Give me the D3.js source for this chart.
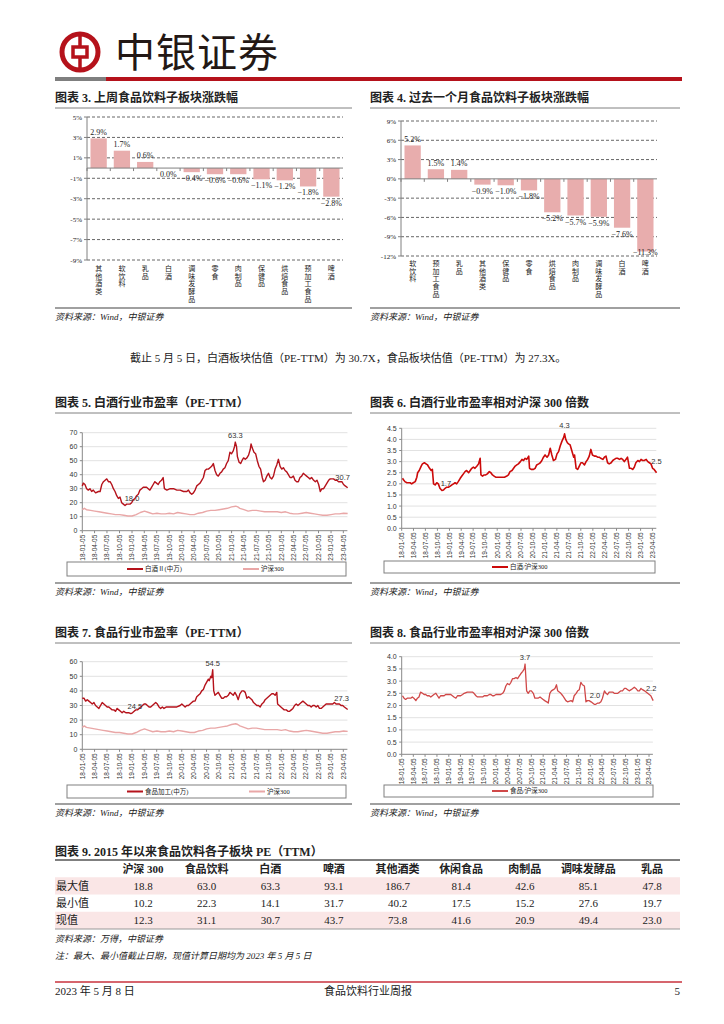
<!DOCTYPE html>
<html><head><meta charset="utf-8">
<script src="https://cdn.jsdelivr.net/npm/d3@7/dist/d3.min.js"></script>
<style>
body{margin:0;background:#fff}
svg{display:block}
text{font-family:"Liberation Serif","Noto Sans CJK SC",serif;fill:#222}
</style></head><body>
<svg id="page" width="724" height="1024"></svg>
<script>
// ---- data ----
var wkCats = ['其他酒类','软饮料','乳品','白酒','调味发酵品','零食','肉制品','保健品','烘焙食品','预加工食品','啤酒'];
var wkVals = [2.9,1.7,0.6,0.0,-0.4,-0.6,-0.6,-1.1,-1.2,-1.8,-2.8];
var wkTicks = [5,3,1,-1,-3,-5,-7,-9];
var moCats = ['软饮料','预加工食品','乳品','其他酒类','保健品','零食','烘焙食品','肉制品','调味发酵品','白酒','啤酒'];
var moVals = [5.2,1.5,1.4,-0.9,-1.0,-1.8,-5.2,-5.7,-5.9,-7.6,-11.3];
var moTicks = [9,6,3,0,-3,-6,-9,-12];

var dateTicks = ['18-01-05','18-04-05','18-07-05','18-10-05','19-01-05','19-04-05','19-07-05','19-10-05',
  '20-01-05','20-04-05','20-07-05','20-10-05','21-01-05','21-04-05','21-07-05','21-10-05',
  '22-01-05','22-04-05','22-07-05','22-10-05','23-01-05','23-04-05'];

// [months since 18-01-05, value]
var baijiuPE = [[0,32],[0.24,34],[0.64,33],[1.05,30],[1.45,29],[1.85,30],[2.25,28],[2.65,29],[3.2,27],[3.9,28],[4.3,28],
 [4.7,33],[5.1,35],[5.5,36],[5.9,37],[6.3,35],[6.7,35],[7.1,33],[7.5,30],[7.9,28],[8.3,25],[8.7,23],[9.1,24],[9.5,20],
 [9.9,19],[10.3,18],[10.7,19],[11.5,19],[11.9,20],[12.3,22],[12.7,23],[13.1,25],[13.5,26],[13.9,29],[14.3,30],[14.7,31],
 [15.5,31],[15.9,30],[16.3,29],[16.7,31],[17.1,33],[17.5,35],[17.9,34],[18.3,33],[18.7,35],[19.1,36],[19.5,38],[19.8,30],
 [20.4,29],[21.2,30],[22.0,30],[22.8,29],[23.6,29],[24.4,28],[25.2,28],[25.6,29],[26.0,27],[26.4,26],[26.8,27],[27.2,29],
 [27.6,32],[28.0,33],[28.4,34],[28.8,36],[29.2,38],[29.6,43],[30.0,44],[30.4,44],[30.8,45],[31.2,46],[31.6,48],[32.0,43],
 [32.4,40],[32.8,39],[33.2,41],[33.6,42],[34.0,44],[34.4,45],[34.8,48],[35.2,50],[35.6,56],[36.0,55],[36.4,57],[36.7,60],
 [36.9,63.3],[37.2,60],[37.4,53],[37.8,49],[38.2,48],[38.5,50],[38.9,52],[39.3,51],[39.7,52],[40.1,54],[40.5,58],[40.7,62],
 [41.0,59],[41.4,56],[41.8,55],[42.2,50],[42.6,46],[43.0,44],[43.4,38],[43.7,35],[44.1,36],[44.5,39],[44.9,41],[45.3,38],
 [45.7,37],[46.1,39],[46.5,44],[46.9,47],[47.3,51],[47.7,46],[48.1,44],[48.5,45],[48.9,43],[49.3,42],[49.7,40],[50.1,38],
 [50.5,38],[50.9,39],[51.3,36],[51.7,35],[52.1,35],[52.5,38],[52.9,39],[53.3,41],[53.7,40],[54.1,39],[54.5,38],[54.9,37],
 [55.3,38],[55.8,36],[56.2,35],[56.6,36],[57.0,33],[57.4,28],[57.8,30],[58.2,30],[58.6,32],[59.0,34],[59.4,36],[59.8,37],
 [60.6,37],[61.0,36],[61.4,36],[61.8,35],[62.6,35],[63.0,33],[63.4,32],[64.0,30.7]];

var hs300PE = [[0,15],[0.5,16],[1,15],[2,14.5],[3,14],[4,13.5],[5,13],[6,12.5],[7,12],[8,11.5],[9,11.5],[10,11],[11,10.5],
 [12,10.5],[13,11.5],[14,13],[15,14],[16,13],[17,12],[18,12.5],[19,12],[20,12],[21,12.5],[22,12],[23,13],[24,12.5],[25,12],
 [26,11.5],[27,11.5],[28,12.5],[29,13],[30,14],[31,14.5],[32,14.5],[33,15],[34,15.5],[35,16],[36,17],[37,17.5],[37.5,17],
 [38,16],[39,15],[40,14],[41,14.5],[42,14.5],[43,14],[44,13.5],[45,13.5],[46,13.5],[47,13.5],[48,13],[49,13.5],[50,12.5],
 [51,12],[52,12],[53,12.5],[54,13],[55,12.5],[56,12],[57,11.5],[58,11],[59,11],[60,11.5],[61,12],[62,12],[63,12.5],[64,12.3]];

var baijiuRel = [[0.2,2.25],[0.4,2.2],[0.8,2.1],[1.3,2.05],[2.1,2.05],[2.5,2.0],[2.9,2.05],[3.4,2.1],[3.8,2.3],[4.0,2.5],
 [4.4,2.6],[4.9,2.8],[5.2,2.9],[5.7,2.95],[6.1,2.9],[6.5,2.85],[7.0,2.7],[7.4,2.6],[7.7,2.65],[8.0,2.0],[8.4,1.95],[8.8,2.05],
 [9.2,2.0],[9.6,1.8],[10.1,1.7],[10.5,1.72],[10.9,1.8],[11.3,1.85],[11.7,1.85],[12.2,1.9],[12.6,1.95],[13.0,2.0],[13.4,2.05],
 [13.8,2.0],[14.2,2.1],[14.7,2.25],[15.1,2.35],[15.5,2.45],[15.9,2.55],[16.3,2.6],[16.8,2.5],[17.2,2.6],[17.6,2.7],[18.0,2.75],
 [18.4,2.7],[18.9,2.8],[19.3,2.9],[19.7,3.15],[19.9,2.4],[20.3,2.35],[20.7,2.4],[21.1,2.4],[21.5,2.45],[22.0,2.55],[22.4,2.5],
 [22.8,2.4],[23.2,2.35],[23.6,2.3],[24.5,2.3],[25.8,2.3],[26.4,2.35],[26.8,2.4],[27.2,2.55],[27.7,2.6],[28.1,2.7],[28.5,2.8],
 [28.9,2.85],[29.3,2.9],[29.8,3.0],[30.2,3.1],[30.6,3.05],[31.0,3.15],[31.4,3.1],[31.9,3.25],[32.1,2.7],[32.5,2.65],[33.1,2.65],
 [33.5,2.7],[33.9,2.85],[34.4,2.9],[34.8,2.95],[35.2,3.05],[35.6,3.2],[36.0,3.3],[36.5,3.2],[36.9,3.3],[37.3,3.6],[37.7,3.3],
 [38.1,3.05],[38.6,3.1],[39.0,3.35],[39.4,3.45],[39.8,3.7],[40.2,3.9],[40.7,4.1],[40.9,4.25],[41.2,4.0],[41.6,3.85],[41.9,3.8],
 [42.3,3.75],[42.7,3.5],[43.2,3.2],[43.4,3.3],[43.8,2.7],[44.2,2.65],[44.6,2.8],[45.0,2.95],[45.4,2.95],[45.9,2.85],[46.3,3.0],
 [46.7,3.1],[47.1,3.25],[47.5,3.55],[47.9,3.3],[48.4,3.25],[48.8,3.25],[49.2,3.2],[49.6,3.2],[50.0,3.15],[50.5,3.1],[50.9,3.2],
 [51.3,3.25],[51.7,2.95],[52.1,2.9],[52.6,2.95],[53.0,3.05],[53.4,3.1],[53.8,3.15],[54.2,3.15],[54.7,3.1],[55.1,3.15],[55.5,3.1],
 [55.9,3.0],[56.3,3.1],[56.7,3.2],[57.2,2.7],[57.6,2.7],[58.0,2.65],[58.4,2.75],[58.8,2.95],[59.3,3.05],[59.7,3.0],[60.1,3.1],
 [60.5,3.05],[60.9,3.05],[61.4,3.1],[61.8,3.0],[62.2,2.95],[62.6,2.9],[63.0,2.7],[63.4,2.65],[64.0,2.5]];

var foodPE = [[0,35],[0.4,35],[0.8,33],[1.2,34],[1.6,33],[2.0,32],[2.4,31],[2.8,32],[3.2,30],[3.6,29],[4.0,28],[4.4,30],
 [4.8,32],[5.2,31],[5.6,30],[6.0,29],[6.4,29],[6.8,28],[7.2,27],[7.6,27],[8.0,26],[8.4,28],[8.8,27],[9.2,26],[9.6,25],
 [10.0,26],[10.5,25],[10.9,25],[11.3,25],[11.7,24.5],[12.1,25],[12.5,26],[12.9,27],[13.3,27],[13.7,28],[14.1,29],[14.5,30],
 [14.9,31],[15.3,31],[15.7,30],[16.1,29],[16.5,29],[16.9,30],[17.3,31],[17.7,32],[18.1,31],[18.5,29],[18.9,28],[19.3,29],
 [19.7,28],[20.3,29],[21.2,29],[22.0,29],[22.8,29],[23.6,30],[24.0,31],[24.4,30],[24.8,29],[25.2,30],[25.6,30],[26.0,31],
 [26.4,32],[26.8,33],[27.2,33],[27.6,36],[28.0,37],[28.4,38],[28.8,40],[29.2,41],[29.6,44],[30.0,46],[30.4,48],[30.6,47],
 [31.0,50],[31.2,49],[31.45,54.5],[31.7,40],[32.0,37],[32.4,38],[32.8,39],[33.2,37],[33.6,35],[34.0,35],[34.4,36],[34.8,36],
 [35.2,37],[35.6,39],[36.0,38],[36.4,37],[36.8,39],[37.2,37],[37.6,34],[38.0,38],[38.5,40],[38.9,40],[39.3,39],[39.7,35],
 [40.1,36],[40.5,35],[40.9,34],[41.3,32],[41.7,31],[42.1,30],[42.5,30],[42.9,29],[43.3,31],[43.7,32],[44.1,34],[44.5,35],
 [44.9,36],[45.3,37],[45.7,38],[46.1,38],[46.5,37],[46.9,39],[47.1,31],[47.5,30],[47.9,29],[48.3,28],[48.7,27],[49.2,27],
 [49.6,26],[50.0,26],[50.4,27],[50.8,28],[51.2,30],[51.6,31],[52.0,30],[52.4,31],[52.8,32],[53.2,33],[53.6,32],[54.0,31],
 [54.4,30],[54.8,30],[55.2,29],[55.6,30],[56.0,30],[56.4,29],[56.8,30],[57.2,28],[57.6,28],[58.0,29],[58.4,30],[58.8,31],
 [59.2,31],[59.6,31],[60.0,31],[60.4,31],[60.8,32],[61.2,31],[61.6,31],[62.0,31],[62.4,30],[62.8,30],[63.2,29],[64.0,27.3]];

var foodRel = [[0.2,2.4],[0.6,2.3],[1.0,2.25],[1.4,2.3],[2.3,2.3],[2.7,2.35],[3.1,2.3],[3.6,2.2],[4.0,2.3],[4.4,2.35],
 [4.8,2.55],[5.3,2.5],[5.7,2.45],[6.1,2.45],[6.5,2.4],[7.0,2.4],[7.4,2.35],[7.8,2.4],[8.2,2.45],[8.7,2.5],[9.1,2.4],[9.5,2.3],
 [9.9,2.4],[10.8,2.4],[11.2,2.45],[12.5,2.45],[12.9,2.4],[13.3,2.35],[13.8,2.3],[14.2,2.4],[15.0,2.4],[15.5,2.45],[15.9,2.5],
 [16.7,2.55],[18.0,2.55],[18.4,2.5],[18.9,2.4],[19.3,2.35],[20.6,2.35],[21.0,2.4],[21.8,2.4],[22.3,2.45],[22.7,2.45],[23.1,2.4],
 [23.5,2.4],[24.0,2.45],[25.2,2.45],[25.7,2.5],[26.1,2.6],[26.5,2.8],[26.9,2.9],[27.4,2.85],[27.8,2.95],[28.2,3.1],[28.6,3.1],
 [29.1,3.15],[29.5,3.1],[29.9,3.2],[30.3,3.3],[30.8,3.4],[31.2,3.5],[31.4,3.7],[31.8,2.6],[32.2,2.5],[32.6,2.6],[33.0,2.6],
 [33.5,2.5],[33.9,2.3],[34.7,2.3],[35.2,2.35],[35.6,2.3],[36.0,2.25],[36.4,2.2],[36.9,2.15],[37.3,2.1],[37.7,2.5],[38.1,2.6],
 [38.6,2.65],[39.0,2.7],[39.4,2.85],[39.7,2.6],[40.1,2.55],[40.5,2.5],[41.0,2.4],[41.4,2.3],[41.8,2.2],[42.2,2.15],[43.1,2.2],
 [43.5,2.15],[43.9,2.4],[44.4,2.5],[44.8,2.6],[45.2,2.65],[45.6,2.95],[46.0,2.85],[46.5,2.8],[46.9,2.15],[47.3,2.2],[47.7,2.2],
 [48.2,2.15],[48.6,2.1],[49.0,2.05],[49.4,2.05],[49.9,2.1],[50.3,2.1],[50.7,2.15],[51.1,2.3],[51.6,2.6],[52.0,2.5],[52.4,2.45],
 [52.8,2.55],[53.7,2.55],[54.1,2.5],[55.0,2.5],[55.4,2.55],[55.8,2.6],[56.2,2.6],[56.7,2.7],[57.1,2.7],[57.5,2.65],[57.9,2.6],
 [58.4,2.65],[58.8,2.7],[59.2,2.75],[59.6,2.7],[60.1,2.6],[60.5,2.6],[60.9,2.7],[61.3,2.65],[61.8,2.6],[62.2,2.55],[62.6,2.5],
 [63.0,2.45],[63.4,2.4],[64.0,2.2]];

var tableHead = ['沪深 300','食品饮料','白酒','啤酒','其他酒类','休闲食品','肉制品','调味发酵品','乳品'];
var rowNames = ['最大值','最小值','现值'];
var peMax = [18.8,63.0,63.3,93.1,186.7,81.4,42.6,85.1,47.8];
var peMin = [10.2,22.3,14.1,31.7,40.2,17.5,15.2,27.6,19.7];
var peNow = [12.3,31.1,30.7,43.7,73.8,41.6,20.9,49.4,23.0];

// ---- page ----
var RED = '#B5121B';
var svg = d3.select('#page');
var sans = '"Liberation Sans","Noto Sans CJK SC",sans-serif';

// header
var hd = svg.append('g');
hd.append('circle').attr('cx',80).attr('cy',52).attr('r',18).attr('fill','none').attr('stroke',RED).attr('stroke-width',5);
hd.append('line').attr('x1',80).attr('x2',80).attr('y1',36).attr('y2',68).attr('stroke',RED).attr('stroke-width',3.5);
hd.append('rect').attr('x',73).attr('y',47).attr('width',14).attr('height',10).attr('fill','#fff').attr('stroke',RED).attr('stroke-width',3.5);
hd.append('text').attr('x',115).attr('y',67).attr('font-size',40).attr('letter-spacing',1)
  .style('font-family','"Noto Sans CJK SC"').style('fill','#231815').text('中银证券');
hd.append('rect').attr('x',55).attr('y',77).attr('width',51).attr('height',4).attr('fill','#7f7f7f');
hd.append('rect').attr('x',106).attr('y',77).attr('width',576).attr('height',4).attr('fill',RED);

function title(x,y,w,t){
  svg.append('text').attr('x',x).attr('y',y).attr('font-size',12).attr('font-weight','bold').text(t);
  svg.append('line').attr('x1',x).attr('x2',x+w).attr('y1',y+6).attr('y2',y+6).attr('stroke','#808080').attr('stroke-width',1);
}
function source(x,y,w,t){
  svg.append('line').attr('x1',x).attr('x2',x+w).attr('y1',y).attr('y2',y).attr('stroke','#808080').attr('stroke-width',1.5);
  svg.append('text').attr('x',x).attr('y',y+12).attr('font-size',9).attr('font-style','italic').text(t);
}

function barChart(o){
  var g = svg.append('g');
  var x = d3.scaleBand().domain(o.cats).range([o.x0,o.x1]).paddingInner(0.3).paddingOuter(0.15);
  var y = d3.scaleLinear().domain(o.domain).range([o.yBot,o.yTop]);
  o.ticks.forEach(function(t){
    if(t!==0) g.append('line').attr('x1',o.x0).attr('x2',o.x1).attr('y1',y(t)).attr('y2',y(t))
      .attr('stroke','#404040').attr('stroke-width',0.8).attr('stroke-dasharray','3,2');
    g.append('line').attr('x1',o.x0-3).attr('x2',o.x0).attr('y1',y(t)).attr('y2',y(t)).attr('stroke','#808080');
    g.append('text').attr('x',o.x0-5).attr('y',y(t)+2.5).attr('text-anchor','end').attr('font-size',7).text(t+'%');
  });
  g.append('line').attr('x1',o.x0).attr('x2',o.x0).attr('y1',o.yTop).attr('y2',o.yBot).attr('stroke','#808080');
  g.selectAll('rect.b').data(o.vals).enter().append('rect')
    .attr('x',function(d,i){return x(o.cats[i]);}).attr('width',x.bandwidth())
    .attr('y',function(d){return y(Math.max(0,d));}).attr('height',function(d){return Math.abs(y(d)-y(0));})
    .attr('fill','#E8ADAD');
  g.append('line').attr('x1',o.x0).attr('x2',o.x1).attr('y1',y(0)).attr('y2',y(0)).attr('stroke','#808080');
  o.cats.forEach(function(c,i){
    var cx = x(c)+x.bandwidth()/2;
    g.append('line').attr('x1',x(c)-x.step()*0.15).attr('x2',x(c)-x.step()*0.15).attr('y1',y(0)).attr('y2',y(0)+3).attr('stroke','#808080');
    var v = o.vals[i];
    var ly = v>0 ? y(v)-3.5 : Math.min(y(v)+9, o.yBot-1.5);
    g.append('text').attr('x',cx).attr('y',ly).attr('text-anchor','middle').attr('font-size',8)
      .text(d3.format('.1f')(v)+'%');
    // vertical category name, one text element
    g.append('text').attr('x',cx).attr('y',o.catY).attr('font-size',7)
      .style('font-family','"Noto Sans CJK SC"').style('writing-mode','vertical-rl')
      .style('letter-spacing','0.6px').text(c);
  });
}

var t0 = new Date(2018,0,5), tEnd = new Date(2023,4,5);
var parseT = d3.timeParse('%y-%m-%d');
function mDate(m){ return new Date(t0.getTime()+m*30.4375*864e5); }

function lineChart(o){
  var g = svg.append('g');
  var x = d3.scaleTime().domain([t0,tEnd]).range([o.x0,o.xEnd]);
  var y = d3.scaleLinear().domain(o.yDomain).range([o.yBot,o.yTop]);
  o.yTicks.forEach(function(t){
    if(t!==o.yDomain[0]) g.append('line').attr('x1',o.x0).attr('x2',o.xEnd).attr('y1',y(t)).attr('y2',y(t))
      .attr('stroke','#d9d9d9').attr('stroke-width',0.8);
    g.append('line').attr('x1',o.x0-2.5).attr('x2',o.x0).attr('y1',y(t)).attr('y2',y(t)).attr('stroke','#888');
    g.append('text').attr('x',o.x0-5).attr('y',y(t)+2.5).attr('text-anchor','end').attr('font-size',7)
      .style('font-family',sans).style('fill','#333').text(o.yFmt(t));
  });
  g.append('line').attr('x1',o.x0).attr('x2',o.x0).attr('y1',o.yTop).attr('y2',o.yBot).attr('stroke','#888');
  g.append('line').attr('x1',o.x0).attr('x2',o.xEnd).attr('y1',o.yBot).attr('y2',o.yBot).attr('stroke','#888');
  dateTicks.forEach(function(s){
    var px = x(parseT(s));
    g.append('line').attr('x1',px).attr('x2',px).attr('y1',o.yBot).attr('y2',o.yBot+2.5).attr('stroke','#888');
    g.append('text').attr('transform','translate('+(px+2.3)+','+(o.yBot+4)+') rotate(-90)')
      .attr('text-anchor','end').attr('font-size',6.5).style('font-family',sans).style('fill','#333').text(s);
  });
  var line = d3.line().x(function(d){return x(mDate(d[0]));}).y(function(d){return y(d[1]);});
  o.series.forEach(function(s){
    g.append('path').datum(s.data).attr('d',line).attr('fill','none').attr('stroke',s.color)
      .attr('stroke-width',s.width).attr('stroke-linejoin','round');
  });
  o.notes.forEach(function(n){
    g.append('text').attr('x',x(mDate(n[0]))+n[2]).attr('y',y(n[1])+n[3]).attr('text-anchor','middle')
      .attr('font-size',7.5).style('font-family',sans).style('fill','#333').text(n[4]);
  });
  var lb = o.legend;
  g.append('rect').attr('x',lb.x).attr('y',lb.y).attr('width',lb.w).attr('height',lb.h)
    .attr('fill','none').attr('stroke','#808080').attr('stroke-width',1);
  lb.items.forEach(function(it,i){
    var s = o.series[i], cy = lb.y+lb.h/2;
    g.append('line').attr('x1',it[0]).attr('x2',it[0]+16).attr('y1',cy).attr('y2',cy)
      .attr('stroke',s.color).attr('stroke-width',2);
    g.append('text').attr('x',it[0]+18).attr('y',cy+2.3).attr('font-size',6.5).text(it[1]);
  });
}

// chart 3
title(55,102,297,'图表 3. 上周食品饮料子板块涨跌幅');
barChart({cats:wkCats,vals:wkVals,ticks:wkTicks,domain:[-9,5],x0:87,x1:343,yTop:117,yBot:260,catY:265});
source(55,308,297,'资料来源：Wind，中银证券');
// chart 4
title(370,102,310,'图表 4. 过去一个月食品饮料子板块涨跌幅');
barChart({cats:moCats,vals:moVals,ticks:moTicks,domain:[-12,9],x0:401,x1:657,yTop:121,yBot:256,catY:260});
source(370,308,310,'资料来源：Wind，中银证券');

svg.append('text').attr('x',130).attr('y',362).attr('font-size',11)
  .text('截止 5 月 5 日，白酒板块估值（PE-TTM）为 30.7X，食品板块估值（PE-TTM）为 27.3X。');

var f0 = d3.format('d'), f1 = d3.format('.1f');
// chart 5
title(55,407,297,'图表 5. 白酒行业市盈率（PE-TTM）');
lineChart({x0:82.3,xEnd:347.4,yTop:432.7,yBot:530.7,yDomain:[0,70],yTicks:d3.range(0,71,10),yFmt:f0,
  series:[{data:baijiuPE,color:'#B5121B',width:1.4},{data:hs300PE,color:'#E9A7A7',width:1.4}],
  notes:[[36.9,63.3,0,-4,'63.3'],[10.3,18.0,7,-5,'18.0'],[64,30.7,-5,-8,'30.7']],
  legend:{x:67,y:562,w:279,h:14,items:[[127,'白酒Ⅱ(中万)'],[243,'沪深300']]}});
source(55,583,297,'资料来源：Wind，中银证券');
// chart 6
title(370,407,310,'图表 6. 白酒行业市盈率相对沪深 300 倍数');
lineChart({x0:401.7,xEnd:656.3,yTop:428.3,yBot:528.3,yDomain:[0,4.5],yTicks:d3.range(0,4.51,0.5),yFmt:f1,
  series:[{data:baijiuRel,color:'#CC0A0A',width:1.6}],
  notes:[[40.9,4.3,0,-5,'4.3'],[10.1,1.7,4,-5,'1.7'],[64,2.5,0,-9,'2.5']],
  legend:{x:384,y:561,w:271,h:12,items:[[492,'白酒/沪深300']]}});
source(370,583,310,'资料来源：Wind，中银证券');
// chart 7
title(55,637,297,'图表 7. 食品行业市盈率（PE-TTM）');
lineChart({x0:82.3,xEnd:347.4,yTop:661.7,yBot:749.3,yDomain:[0,60],yTicks:d3.range(0,61,10),yFmt:f0,
  series:[{data:foodPE,color:'#B5121B',width:1.4},{data:hs300PE,color:'#E9A7A7',width:1.4}],
  notes:[[31.45,54.5,0,-4,'54.5'],[11.7,24.5,4,-5,'24.5'],[64,27.3,-6,-8,'27.3']],
  legend:{x:67,y:785,w:279,h:13,items:[[127,'食品加工(中万)'],[249,'沪深300']]}});
source(55,804,297,'资料来源：Wind，中银证券');
// chart 8
title(370,637,310,'图表 8. 食品行业市盈率相对沪深 300 倍数');
lineChart({x0:401.7,xEnd:652.9,yTop:656.7,yBot:754.3,yDomain:[0,4],yTicks:d3.range(0,4.01,0.5),yFmt:f1,
  series:[{data:foodRel,color:'#D04848',width:1.3}],
  notes:[[31.4,3.7,0,-4,'3.7'],[49.2,2.05,0,-6,'2.0'],[64,2.2,-2,-10,'2.2']],
  legend:{x:384,y:785,w:269,h:12,items:[[492,'食品/沪深300']]}});
source(370,804,310,'资料来源：Wind，中银证券');

// table
svg.append('text').attr('x',55).attr('y',856).attr('font-size',12).attr('font-weight','bold')
  .text('图表 9. 2015 年以来食品饮料各子板块 PE（TTM）');
var colX = d3.scalePoint().domain(tableHead).range([143,652]);
var rowY = d3.scaleBand().domain(['h'].concat(rowNames)).range([860,929]);
[peMax,peMin,peNow].forEach(function(r,i){
  if(i!==1) svg.append('rect').attr('x',55).attr('y',rowY(rowNames[i])).attr('width',625).attr('height',rowY.bandwidth()).attr('fill','#FAE6E6');
  svg.append('text').attr('x',56).attr('y',rowY(rowNames[i])+rowY.bandwidth()/2+4).attr('font-size',11).text(rowNames[i]);
  r.forEach(function(v,j){
    svg.append('text').attr('x',colX(tableHead[j])).attr('y',rowY(rowNames[i])+rowY.bandwidth()/2+4)
      .attr('text-anchor','middle').attr('font-size',11).text(f1(v));
  });
});
tableHead.forEach(function(h){
  svg.append('text').attr('x',colX(h)).attr('y',rowY('h')+rowY.bandwidth()/2+4).attr('text-anchor','middle')
    .attr('font-size',11).attr('font-weight','bold').text(h);
});
svg.append('line').attr('x1',55).attr('x2',680).attr('y1',860).attr('y2',860).attr('stroke','#555').attr('stroke-width',1.5);
svg.append('line').attr('x1',55).attr('x2',680).attr('y1',929).attr('y2',929).attr('stroke','#999').attr('stroke-width',1);
svg.append('text').attr('x',55).attr('y',942).attr('font-size',9).attr('font-style','italic').text('资料来源：万得，中银证券');
svg.append('text').attr('x',55).attr('y',959).attr('font-size',9).attr('font-style','italic').text('注：最大、最小值截止日期，现值计算日期均为 2023 年 5 月 5 日');

// footer
svg.append('line').attr('x1',55).attr('x2',682).attr('y1',982).attr('y2',982).attr('stroke','#C8323C').attr('stroke-width',1.5);
svg.append('text').attr('x',55).attr('y',995).attr('font-size',11).text('2023 年 5 月 8 日');
svg.append('text').attr('x',368).attr('y',995).attr('font-size',11).attr('text-anchor','middle').text('食品饮料行业周报');
svg.append('text').attr('x',680).attr('y',995).attr('font-size',11).attr('text-anchor','end').text('5');
</script>
</body></html>
